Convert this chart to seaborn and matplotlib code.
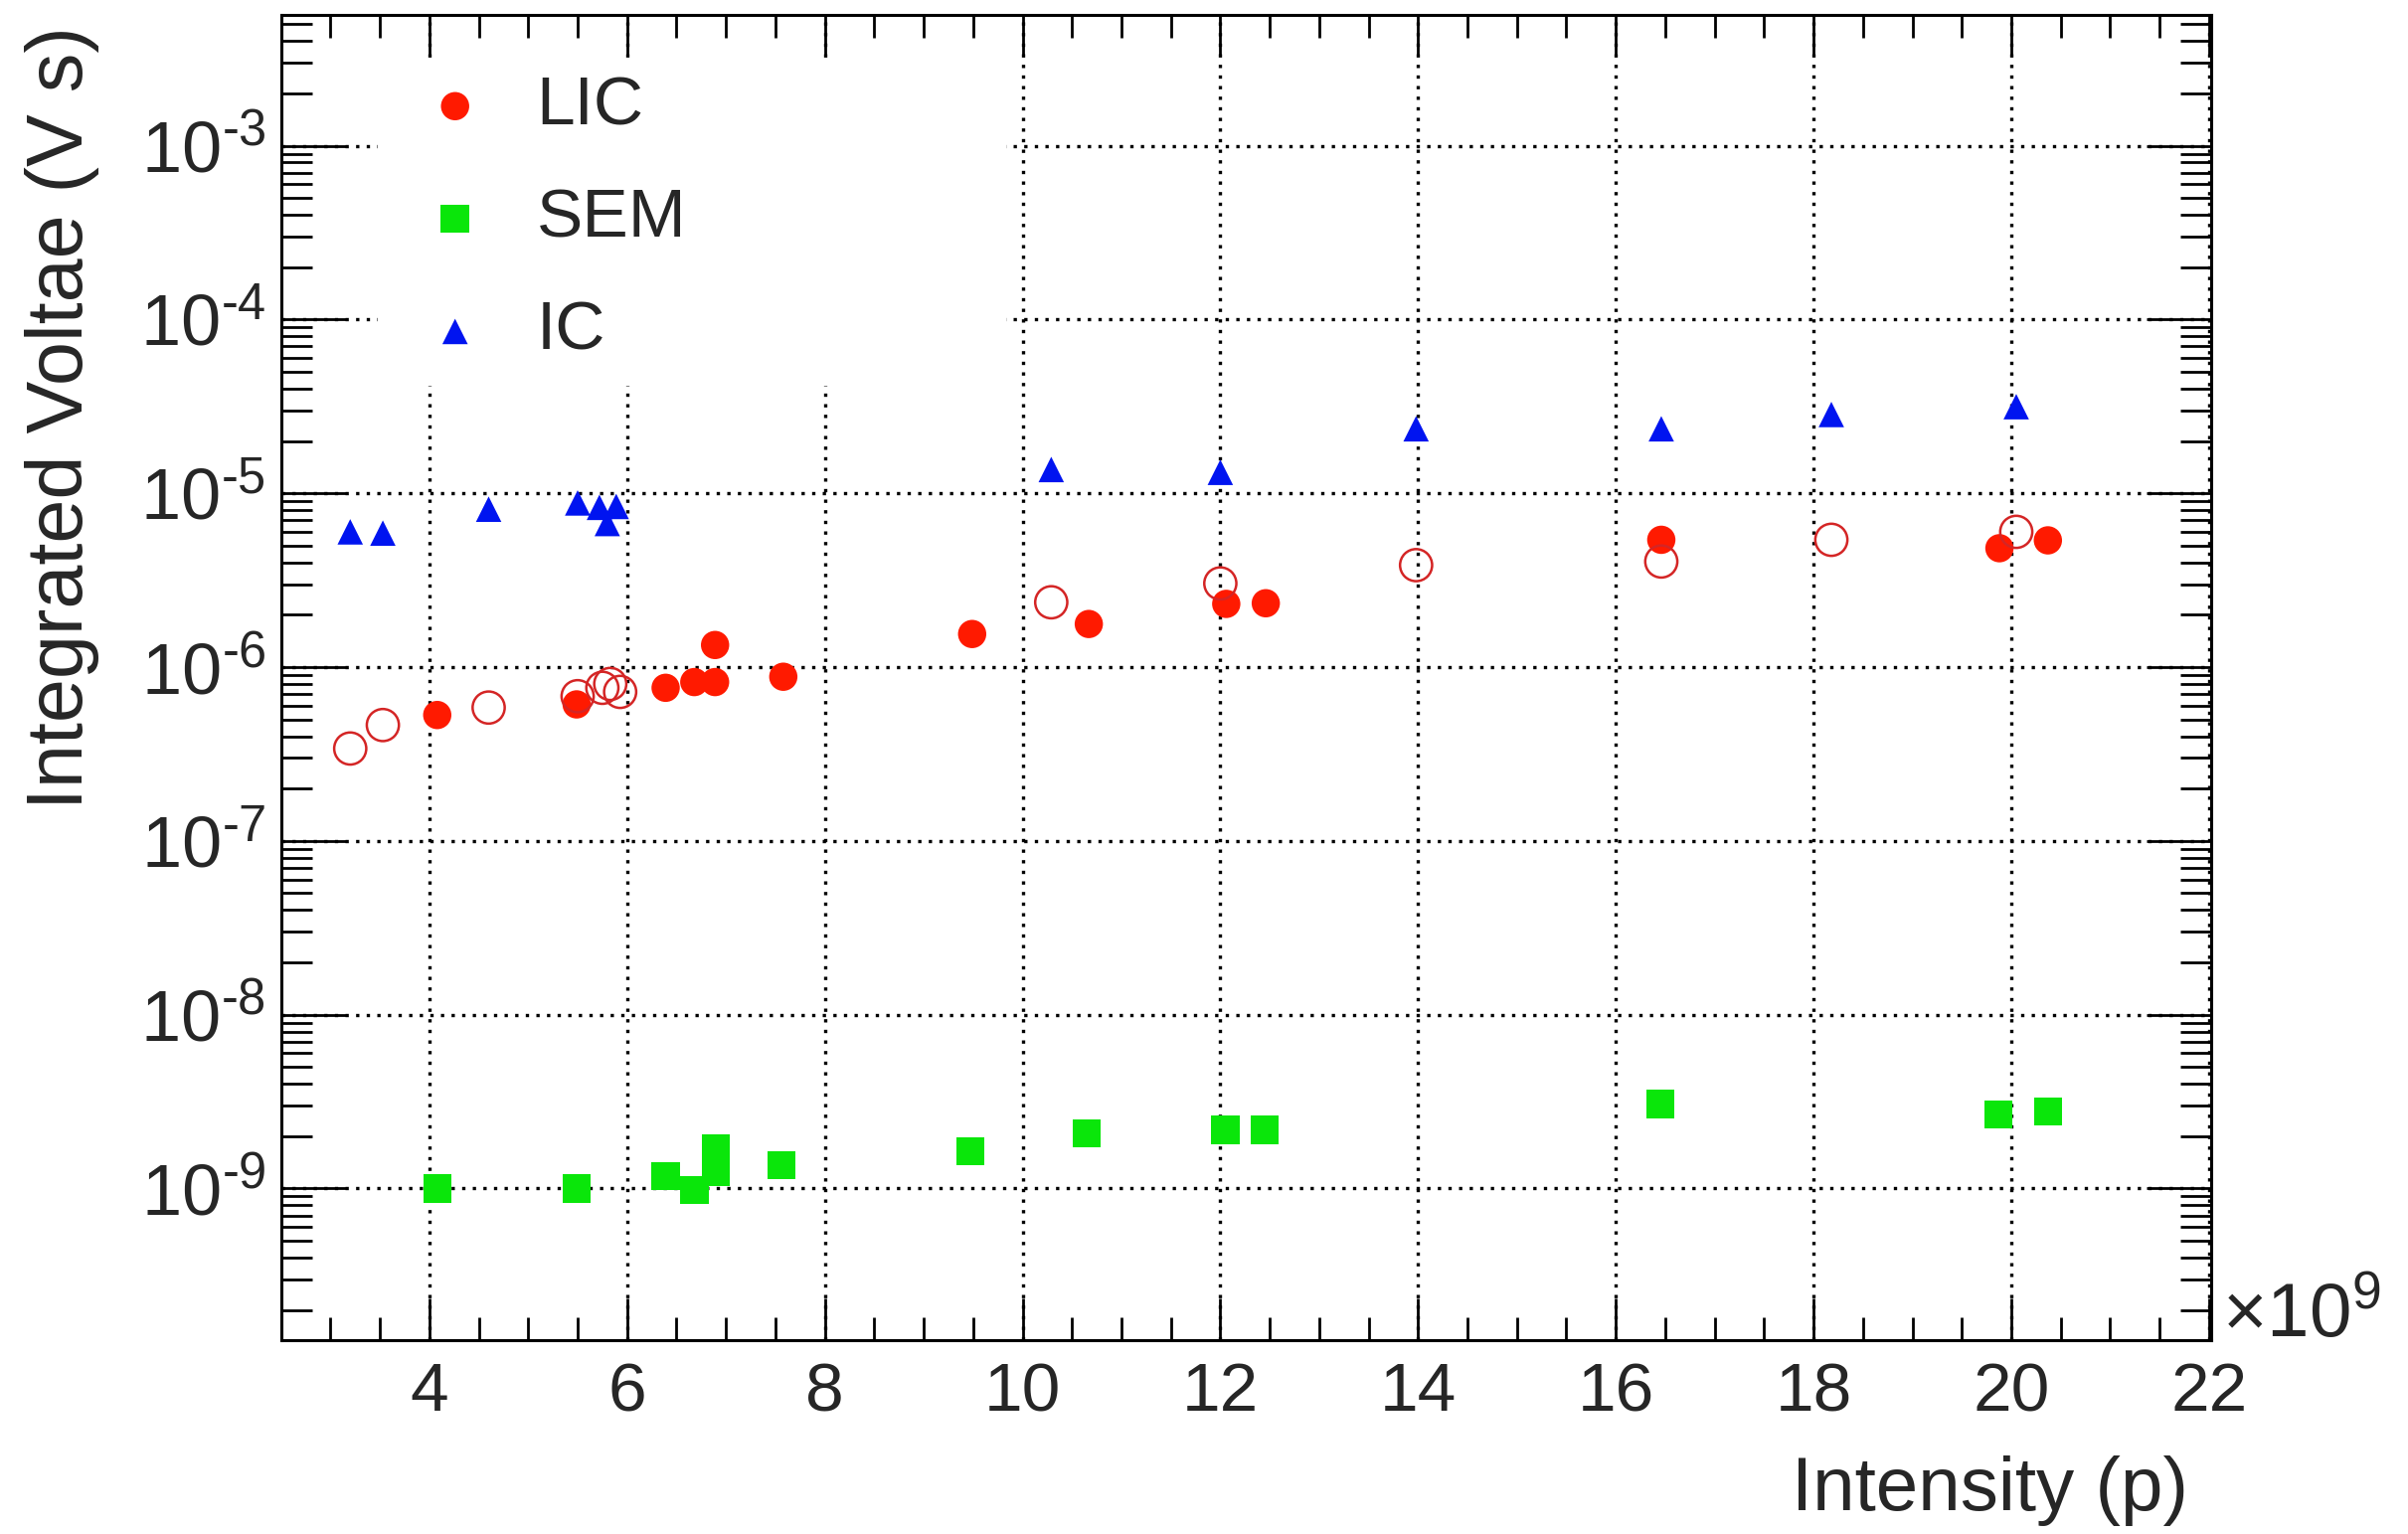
import numpy as np
import pandas as pd
import matplotlib
matplotlib.use("Agg")
import matplotlib.pyplot as plt
import seaborn as sns
from matplotlib.ticker import FixedLocator, MultipleLocator, LogLocator, FuncFormatter, NullFormatter
from matplotlib.patches import Rectangle

# ---------------- data (intensity in units of 1e9 protons) ----------------
lic_x = [4.08, 5.49, 6.39, 6.68, 6.89, 6.89, 7.58, 9.49, 10.67, 12.06, 12.46, 16.46, 19.88, 20.37]
lic_y = [5.3e-7, 6.1e-7, 7.6e-7, 8.2e-7, 8.2e-7, 1.34e-6, 8.8e-7, 1.55e-6, 1.77e-6, 2.31e-6,
         2.33e-6, 5.4e-6, 4.83e-6, 5.36e-6]

lic_open_x = [3.20, 3.53, 4.60, 5.50, 5.75, 5.83, 5.93, 10.29, 12.00, 13.98, 16.46, 18.18, 20.05]
lic_open_y = [3.4e-7, 4.64e-7, 5.85e-7, 6.8e-7, 7.6e-7, 8.0e-7, 7.2e-7, 2.36e-6, 3.03e-6, 3.86e-6,
              4.05e-6, 5.4e-6, 6.0e-6]

sem_x = [4.08, 5.49, 6.39, 6.68, 6.90, 6.90, 7.56, 9.47, 10.65, 12.05, 12.45, 16.45, 19.87, 20.37]
sem_y = [1.0e-9, 1.0e-9, 1.18e-9, 0.98e-9, 1.7e-9, 1.24e-9, 1.36e-9, 1.64e-9, 2.07e-9, 2.18e-9,
         2.18e-9, 3.06e-9, 2.66e-9, 2.78e-9]

ic_x = [3.20, 3.53, 4.60, 5.50, 5.72, 5.80, 5.89, 10.29, 12.00, 13.98, 16.46, 18.18, 20.05]
ic_y = [6.0e-6, 5.9e-6, 8.1e-6, 8.8e-6, 8.3e-6, 6.7e-6, 8.4e-6, 1.37e-5, 1.32e-5, 2.35e-5,
        2.35e-5, 2.84e-5, 3.15e-5]

x_ticks = [4, 6, 8, 10, 12, 14, 16, 18, 20, 22]
y_ticks = [1e-9, 1e-8, 1e-7, 1e-6, 1e-5, 1e-4, 1e-3]
labels = ["LIC", "SEM", "IC"]
x_label = "Intensity (p)"
y_label = "Integrated Voltae (V s)"

RED = "#ff1a00"
OPEN_RED = "#d42525"
GREEN = "#0ae60a"
BLUE = "#0014f0"

# ---------------- style ----------------
sns.set_style("white")
plt.rcParams["font.family"] = ["Liberation Sans", "DejaVu Sans"]
plt.rcParams["mathtext.fontset"] = "custom"
plt.rcParams["mathtext.rm"] = "Liberation Sans"
plt.rcParams["mathtext.it"] = "Liberation Sans:italic"
plt.rcParams["mathtext.bf"] = "Liberation Sans:bold"
plt.rcParams["mathtext.default"] = "regular"

fig = plt.figure(figsize=(24.22, 15.43), dpi=100)
ax = fig.add_axes([0.1167, 0.1261, 0.8015, 0.8639])
ax.set_yscale("log")
ax.set_xlim(2.5, 22.02)
ax.set_ylim(10 ** -9.875, 10 ** -2.25)
ax.set_axisbelow(True)

# grid
ax.grid(True, which="major", color="black", linewidth=2.4, linestyle=(0, (1, 2.2)))

# white box behind the legend
ax.add_patch(Rectangle((0.0503, 0.7205), 0.3254, 0.966 - 0.7205, transform=ax.transAxes,
                       facecolor="white", edgecolor="none", zorder=2))

sns.scatterplot(x=lic_x, y=lic_y, marker="o", s=420, color=RED, edgecolor="none",
                label=labels[0], ax=ax, zorder=3)
sns.scatterplot(x=sem_x, y=sem_y, marker="s", s=420, color=GREEN, edgecolor="none",
                label=labels[1], ax=ax, zorder=3)
sns.scatterplot(x=ic_x, y=ic_y, marker="^", s=340, color=BLUE, edgecolor="none",
                label=labels[2], ax=ax, zorder=3)
sns.scatterplot(x=lic_open_x, y=lic_open_y, marker="o", s=540, color=OPEN_RED,
                facecolor="none", edgecolor=OPEN_RED, linewidth=1.8, ax=ax, zorder=3, legend=False)

# ticks
ax.xaxis.set_major_locator(FixedLocator(x_ticks))
ax.xaxis.set_minor_locator(MultipleLocator(0.5))
ax.yaxis.set_major_locator(FixedLocator(y_ticks))
ax.yaxis.set_minor_locator(LogLocator(base=10, subs=np.arange(2, 10), numticks=30))


def pow10_label(v, pos):
    e = int(round(np.log10(v)))
    sign = r"\text{-}" if e < 0 else ""
    return r"$10^{%s%d}$" % (sign, abs(e))


ax.yaxis.set_major_formatter(FuncFormatter(pow10_label))
ax.yaxis.set_minor_formatter(NullFormatter())

ax.tick_params(which="both", direction="in", bottom=True, left=True, top=True, right=True,
               width=2.0, color="black")
ax.tick_params(axis="x", which="major", length=30, pad=15, labelsize=50)
ax.tick_params(axis="x", which="minor", length=16.5)
ax.tick_params(axis="y", which="major", length=47, pad=11, labelsize=52)
ax.tick_params(axis="y", which="minor", length=22)

for sp in ax.spines.values():
    sp.set_linewidth(2.2)
    sp.set_color("black")
    sp.set_visible(True)

# axis titles
ax.set_xlabel(x_label, fontsize=55, loc="right")
ax.xaxis.set_label_coords(0.988, -0.087)
ax.set_ylabel(y_label, fontsize=57, loc="top")
ax.yaxis.set_label_coords(-0.094, 0.992)

ax.text(1.0058, 0.003, r"$\times10^{9}$", transform=ax.transAxes, fontsize=55,
        ha="left", va="baseline")

# legend
leg = ax.legend(loc="upper left", bbox_to_anchor=(0.0723, 0.9553), frameon=False,
                fontsize=50, handlelength=1.0, handletextpad=0.68, labelspacing=0.71,
                borderpad=0, borderaxespad=0, markerscale=1.0)

fig.savefig("out.png", dpi=100, facecolor="white")
